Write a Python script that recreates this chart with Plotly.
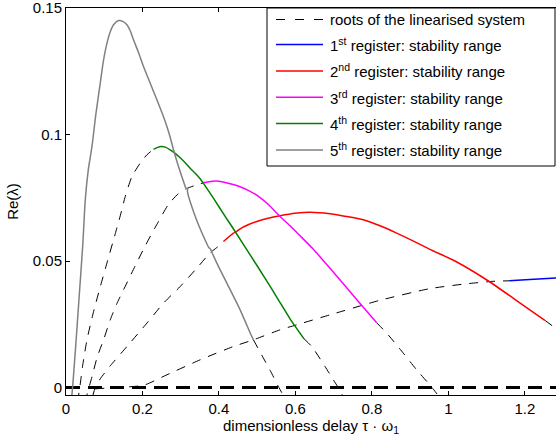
import plotly.graph_objects as go

# ---------------- data: x = tau*omega_1, y = Re(lambda) ----------------
x_ticks = [0, 0.2, 0.4, 0.6, 0.8, 1.0, 1.2]
x_ticklabels = ["0", "0.2", "0.4", "0.6", "0.8", "1", "1.2"]
y_ticks = [0, 0.05, 0.1, 0.15]
y_ticklabels = ["0", "0.05", "0.1", "0.15"]

legend_labels = [
    "roots of the linearised system",
    "1<sup>st</sup> register: stability range",
    "2<sup>nd</sup> register: stability range",
    "3<sup>rd</sup> register: stability range",
    "4<sup>th</sup> register: stability range",
    "5<sup>th</sup> register: stability range",
]

# trivial root line at Re = 0
zero_x = [0.0, 1.35]
zero_y = [0.0, 0.0]

# 1st register (blue)
r1_dash_x = [0.07655, 0.14187, 0.20274, 0.26388, 0.35088, 0.43789, 0.49013, 0.5599,
             0.60353, 0.69053, 0.82116, 0.9518, 1.04768, 1.11717, 1.15898]
r1_dash_y = [-0.00051, 0.00008, 0.00087, 0.00502, 0.01095, 0.01621, 0.01885, 0.02281,
             0.02478, 0.02873, 0.03447, 0.03909, 0.04099, 0.04198, 0.04217]
r1_stab_x = [1.15898, 1.21306, 1.281, 1.31757]
r1_stab_y = [0.04217, 0.04265, 0.04324, 0.04356]

# 2nd register (red)
r2_dash_x = [0.07002, 0.07655, 0.08961, 0.11574, 0.15937, 0.21163, 0.255, 0.29863,
             0.34226, 0.37701, 0.39451, 0.41176]
r2_dash_y = [-0.00328, 0.0, 0.00344, 0.00858, 0.01621, 0.02545, 0.03336, 0.03992,
             0.04719, 0.05324, 0.05534, 0.05771]
r2_stab_x = [0.41176, 0.43789, 0.44677, 0.45539, 0.47629, 0.49902, 0.52854, 0.5599,
             0.59909, 0.63828, 0.69053, 0.72972, 0.77753, 0.82116, 0.8648, 0.90738,
             0.9518, 1.01972, 1.10672, 1.17649, 1.25225]
r2_stab_y = [0.05771, 0.06103, 0.06174, 0.06273, 0.06431, 0.06561, 0.06688, 0.06787,
             0.06885, 0.06925, 0.06866, 0.06767, 0.06628, 0.06391, 0.06103, 0.05798,
             0.05462, 0.0498, 0.0419, 0.03455, 0.02656]
r2_tail_x = [1.25225, 1.281, 1.30451]
r2_tail_y = [0.02656, 0.0234, 0.02083]

# 3rd register (magenta)
r3_dash_x = [0.04912, 0.05487, 0.06009, 0.06793, 0.08178, 0.09824, 0.11574, 0.13403,
             0.15049, 0.18106, 0.20718, 0.23854, 0.26727, 0.2934, 0.3143, 0.33782, 0.3595]
r3_dash_y = [-0.00565, -0.00289, 0.0, 0.00423, 0.01213, 0.01885, 0.02676, 0.03348,
             0.03862, 0.0481, 0.05601, 0.0647, 0.07221, 0.07656, 0.07854, 0.07992, 0.08091]
r3_stab_x = [0.3595, 0.37701, 0.39268, 0.41097, 0.43449, 0.45539, 0.48152, 0.4998,
             0.52854, 0.5599, 0.58602, 0.61215, 0.6469, 0.69053, 0.73417, 0.77753, 0.81254]
r3_stab_y = [0.08091, 0.08142, 0.08158, 0.08119, 0.08032, 0.07933, 0.07755, 0.07597,
             0.07241, 0.06759, 0.06391, 0.05996, 0.05462, 0.04711, 0.03941, 0.0317, 0.02557]
r3_tail_x = [0.81254, 0.83867, 0.88203, 0.91704, 0.94734, 0.95703, 0.98054]
r3_tail_y = [0.02557, 0.0215, 0.0136, 0.007, 0.00174, 0.0, -0.00447]

# 4th register (green)
r4_dash_x = [0.03005, 0.03605, 0.04389, 0.05487, 0.07133, 0.08961, 0.1079, 0.1288,
             0.14187, 0.15493, 0.17244, 0.19412, 0.21163, 0.22887]
r4_dash_y = [-0.00565, 0.0, 0.00897, 0.01885, 0.02953, 0.0398, 0.04968, 0.06075,
             0.06787, 0.07549, 0.0834, 0.0887, 0.09198, 0.09415]
r4_stab_x = [0.22887, 0.23854, 0.24899, 0.25944, 0.2725, 0.28556, 0.29863, 0.31169,
             0.32475, 0.33782, 0.35088, 0.36394, 0.37701, 0.39007, 0.4162, 0.44232,
             0.48152, 0.5207, 0.55545, 0.58602, 0.6226]
r4_stab_y = [0.09415, 0.09482, 0.09522, 0.09502, 0.09395, 0.09257, 0.09079, 0.08881,
             0.08664, 0.08466, 0.08249, 0.07972, 0.07676, 0.07379, 0.06767, 0.06166,
             0.05245, 0.04316, 0.03466, 0.02715, 0.01925]
r4_tail_x = [0.6226, 0.64272, 0.67747, 0.69915, 0.71196, 0.72972]
r4_tail_y = [0.01925, 0.01621, 0.0083, 0.00304, 0.0, -0.00486]

# 5th register (grey)
r5_stab_x = [0.01385, 0.01724, 0.0256, 0.03475, 0.04389, 0.05042, 0.05826, 0.06793,
             0.07786, 0.08961, 0.09745, 0.10712, 0.11574, 0.12436, 0.13743, 0.1484,
             0.15937, 0.168, 0.17662, 0.1889, 0.20274, 0.22025, 0.23775, 0.2516,
             0.26388, 0.2725, 0.28112, 0.29419, 0.30725, 0.313, 0.3177, 0.3177,
             0.33338, 0.35088, 0.36838, 0.37309, 0.37831, 0.38093, 0.40052, 0.42064,
             0.45539, 0.48596, 0.49013]
r5_stab_y = [-0.00565, 0.0, 0.01688, 0.03664, 0.0564, 0.07419, 0.08605, 0.09526,
             0.10779, 0.12032, 0.12874, 0.13613, 0.14059, 0.14336, 0.14506, 0.14474,
             0.14336, 0.14099, 0.13743, 0.13269, 0.12688, 0.12024, 0.11371, 0.10838,
             0.10316, 0.09889, 0.09395, 0.08735, 0.08142, 0.07901, 0.07842, 0.07735,
             0.06957, 0.06273, 0.0568, 0.05541, 0.05462, 0.05364, 0.04731, 0.04126,
             0.03071, 0.02016, 0.01885]
r5_tail_x = [0.49013, 0.51626, 0.53376, 0.55545, 0.57035, 0.57557]
r5_tail_y = [0.01885, 0.01162, 0.0068, 0.0004, -0.00368, -0.00526]

# ---------------- styling ----------------
FONT = "Arial, 'Liberation Sans', Helvetica, sans-serif"
FS = 15
COLORS = ["black", "#0000FF", "#FF0000", "#FF00FF", "#008000", "#808080"]
DASH = "9px,8px"
SMOOTH = 0.6

fig = go.Figure()

fig.add_trace(go.Scatter(x=zero_x, y=zero_y, mode="lines",
                         line=dict(color="black", width=3, dash="14px,8px"),
                         hoverinfo="skip", showlegend=False))

dashed = [(r1_dash_x, r1_dash_y), (r2_dash_x, r2_dash_y), (r2_tail_x, r2_tail_y),
          (r3_dash_x, r3_dash_y), (r3_tail_x, r3_tail_y),
          (r4_dash_x, r4_dash_y), (r4_tail_x, r4_tail_y),
          (r5_tail_x, r5_tail_y)]
for dx, dy in dashed:
    fig.add_trace(go.Scatter(x=dx, y=dy, mode="lines",
                             line=dict(color="black", width=1, dash=DASH,
                                       shape="spline", smoothing=SMOOTH),
                             hoverinfo="skip", showlegend=False))

stable = [(r1_stab_x, r1_stab_y, COLORS[1]), (r2_stab_x, r2_stab_y, COLORS[2]),
          (r3_stab_x, r3_stab_y, COLORS[3]), (r4_stab_x, r4_stab_y, COLORS[4]),
          (r5_stab_x, r5_stab_y, COLORS[5])]
for sx, sy, col in stable:
    fig.add_trace(go.Scatter(x=sx, y=sy, mode="lines",
                             line=dict(color=col, width=1.5,
                                       shape="spline", smoothing=SMOOTH),
                             hoverinfo="skip", showlegend=False))

# ---------------- manual legend ----------------
L, R, T, B = 66, 556, 8, 395   # plot area in pixels
def px(xp):
    return (xp - L) / (R - L)
def py(yp):
    return (B - yp) / (B - T)

shapes = [dict(type="rect", xref="paper", yref="paper",
               x0=px(267), x1=px(555), y0=py(166), y1=py(8),
               line=dict(color="black", width=1), fillcolor="white", layer="above")]
annotations = []
row_y = [19.5, 44.5, 71, 97.3, 123.6, 150]
for i, (lab, col) in enumerate(zip(legend_labels, COLORS)):
    yy = py(row_y[i])
    shapes.append(dict(type="line", xref="paper", yref="paper",
                       x0=px(276), x1=px(323), y0=yy, y1=yy,
                       line=dict(color=col, width=1 if i == 0 else 1.5,
                                 dash="9px,10px" if i == 0 else "solid"),
                       layer="above"))
    annotations.append(dict(text=lab, xref="paper", yref="paper", x=px(328), y=yy,
                            xanchor="left", yanchor="middle", showarrow=False,
                            font=dict(family=FONT, size=FS, color="black")))

fig.update_layout(
    template="none",
    width=556, height=439,
    margin=dict(l=L, r=0, t=T, b=439 - B, pad=0),
    paper_bgcolor="white", plot_bgcolor="white",
    font=dict(family=FONT, size=FS, color="black"),
    showlegend=False,
    shapes=shapes, annotations=annotations,
)
fig.update_xaxes(range=[0, 1.2815], tickvals=x_ticks, ticktext=x_ticklabels,
                 ticks="inside", ticklen=4, tickcolor="black", tickwidth=1,
                 showline=True, linecolor="black", linewidth=1, mirror="ticks",
                 showgrid=False, zeroline=False, automargin=False,
                 ticklabeloverflow="allow",
                 tickfont=dict(family=FONT, size=FS, color="black"),
                 title=dict(text="dimensionless delay τ · ω<sub>1</sub>", standoff=1,
                            font=dict(family=FONT, size=FS, color="black")))
fig.update_yaxes(range=[-0.00296, 0.150002], tickvals=y_ticks, ticktext=y_ticklabels,
                 ticks="inside", ticklen=4, tickcolor="black", tickwidth=1,
                 showline=True, linecolor="black", linewidth=1, mirror=False,
                 showgrid=False, zeroline=False, automargin=False,
                 ticklabeloverflow="allow",
                 tickfont=dict(family=FONT, size=FS, color="black"),
                 title=dict(text="Re(λ)", standoff=10,
                            font=dict(family=FONT, size=FS, color="black")))

fig.write_html("out.html")
